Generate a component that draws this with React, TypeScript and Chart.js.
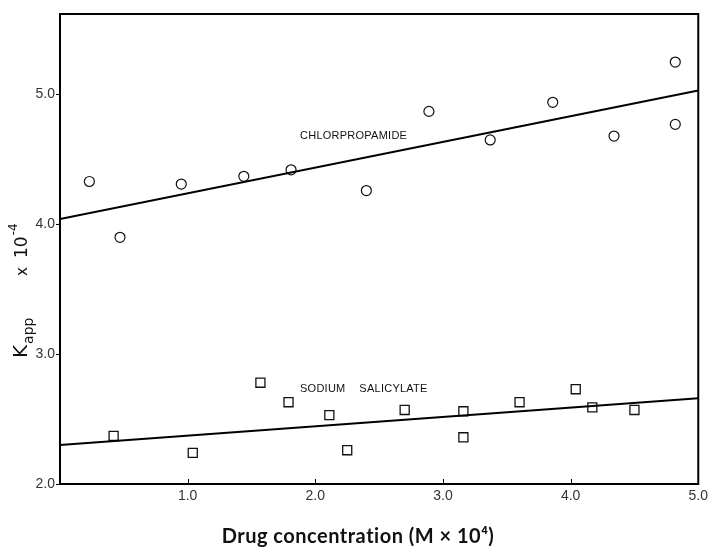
import React, { useEffect, useRef } from "react";
import { Chart, registerables } from "chart.js";

Chart.register(...registerables);

// Chlorpropamide (circles)
const chlorX = [0.23, 0.47, 0.95, 1.44, 1.81, 2.4, 2.89, 3.37, 3.86, 4.34, 4.82, 4.82];
const chlorY = [4.33, 3.9, 4.31, 4.37, 4.42, 4.26, 4.87, 4.65, 4.94, 4.68, 5.25, 4.77];
const chlorFitX = [0, 5];
const chlorFitY = [4.04, 5.03];

// Sodium salicylate (squares)
const salX = [0.42, 1.04, 1.57, 1.79, 2.11, 2.25, 2.7, 3.16, 3.16, 3.6, 4.04, 4.17, 4.5];
const salY = [2.37, 2.24, 2.78, 2.63, 2.53, 2.26, 2.57, 2.56, 2.36, 2.63, 2.73, 2.59, 2.57];
const salFitX = [0, 5];
const salFitY = [2.3, 2.66];

const xTicks = [1, 2, 3, 4, 5];
const yTicks = [2, 3, 4, 5];

const seriesLabels = ["CHLORPROPAMIDE", "SODIUM", "SALICYLATE"];
const labelX = [1.88, 1.88, 2.345];
const labelY = [4.677, 2.73, 2.73];

const xTitle = "Drug concentration (M \u00D7 10\u2074)";

const pts = (xs: number[], ys: number[]) => xs.map((x, i) => ({ x, y: ys[i] }));

const decor = {
  id: "decor",
  afterDraw(chart: any) {
    const { ctx, chartArea: a, scales } = chart;
    const x = scales.x;
    const y = scales.y;
    ctx.save();
    ctx.strokeStyle = "#000";
    ctx.lineWidth = 2;
    ctx.strokeRect(a.left, a.top, a.right - a.left, a.bottom - a.top);
    ctx.lineWidth = 1;
    ctx.beginPath();
    yTicks.forEach((v) => {
      const p = Math.round(y.getPixelForValue(v)) + 0.5;
      ctx.moveTo(a.left - 4, p);
      ctx.lineTo(a.left, p);
    });
    xTicks.forEach((v) => {
      const p = Math.round(x.getPixelForValue(v)) + 0.5;
      ctx.moveTo(p, a.bottom);
      ctx.lineTo(p, a.bottom - 5);
    });
    ctx.stroke();

    // series labels
    ctx.fillStyle = "#111";
    ctx.font = '11px "Liberation Sans"';
    (ctx as any).letterSpacing = "0.25px";
    ctx.textAlign = "left";
    ctx.textBaseline = "middle";
    seriesLabels.forEach((t, i) => {
      ctx.fillText(t, x.getPixelForValue(labelX[i]), y.getPixelForValue(labelY[i]));
    });

    // x title
    ctx.font = 'bold 20px "Lato"';
    (ctx as any).letterSpacing = "0.5px";
    ctx.textAlign = "center";
    ctx.textBaseline = "alphabetic";
    ctx.fillStyle = "#111";
    ctx.fillText(xTitle, 358, 543);
    (ctx as any).letterSpacing = "0px";

    // y title (rotated)
    ctx.translate(27, 358);
    ctx.rotate(-Math.PI / 2);
    ctx.textAlign = "left";
    ctx.textBaseline = "alphabetic";
    let cx = 0;
    ctx.font = '20px "DejaVu Sans"';
    ctx.fillText("K", cx, 0);
    cx += ctx.measureText("K").width + 1;
    ctx.font = '14px "DejaVu Sans"';
    ctx.fillText("app", cx, 6);
    cx = 82;
    ctx.font = '15px "DejaVu Sans"';
    ctx.fillText("x", cx, 0);
    cx = 100;
    ctx.font = '17px "DejaVu Sans"';
    ctx.fillText("10", cx, 0);
    cx += ctx.measureText("10").width + 1;
    ctx.font = '12px "DejaVu Sans"';
    ctx.fillText("-4", cx, -10);
    ctx.restore();
  },
};

export default function App() {
  const ref = useRef<HTMLCanvasElement | null>(null);
  useEffect(() => {
    if (!ref.current) return;
    const chart = new Chart(ref.current, {
      type: "scatter",
      data: {
        datasets: [
          {
            label: "Chlorpropamide fit",
            data: pts(chlorFitX, chlorFitY),
            showLine: true,
            borderColor: "#000",
            borderWidth: 2,
            pointRadius: 0,
          },
          {
            label: "Sodium salicylate fit",
            data: pts(salFitX, salFitY),
            showLine: true,
            borderColor: "#000",
            borderWidth: 2,
            pointRadius: 0,
          },
          {
            label: "Chlorpropamide",
            data: pts(chlorX, chlorY),
            pointStyle: "circle",
            pointRadius: 5,
            pointBorderWidth: 1.2,
            borderColor: "#111",
            backgroundColor: "rgba(255,255,255,0)",
          },
          {
            label: "Sodium salicylate",
            data: pts(salX, salY),
            pointStyle: "rect",
            pointRadius: 6.4,
            pointBorderWidth: 1.3,
            borderColor: "#111",
            backgroundColor: "rgba(255,255,255,0)",
          },
        ],
      },
      options: {
        animation: false,
        responsive: false,
        layout: { padding: { left: 0, right: 8, top: 14, bottom: 0 } },
        plugins: { legend: { display: false }, tooltip: { enabled: false } },
        scales: {
          x: {
            type: "linear",
            min: 0,
            max: 5,
            grid: { display: false, drawTicks: false },
            border: { display: false },
            afterFit: (s: any) => {
              s.height = 65;
            },
            afterBuildTicks: (s: any) => {
              s.ticks = xTicks.map((v) => ({ value: v }));
            },
            ticks: {
              padding: 4,
              color: "#333",
              font: { family: "Liberation Sans", size: 14 },
              callback: (v: any) => Number(v).toFixed(1),
            },
          },
          y: {
            type: "linear",
            min: 2,
            max: 5.62,
            grid: { display: false, drawTicks: false },
            border: { display: false },
            afterFit: (s: any) => {
              s.width = 60;
            },
            afterBuildTicks: (s: any) => {
              s.ticks = yTicks.map((v) => ({ value: v }));
            },
            ticks: {
              padding: 5,
              color: "#333",
              font: { family: "Liberation Sans", size: 14 },
              callback: (v: any) => Number(v).toFixed(1),
            },
          },
        },
      },
      plugins: [decor],
    });
    return () => chart.destroy();
  }, []);
  return (
    <div style={{ position: "fixed", left: 0, top: 0, width: 712, height: 549, background: "#fff" }}>
      <canvas ref={ref} width={712} height={549} />
    </div>
  );
}
